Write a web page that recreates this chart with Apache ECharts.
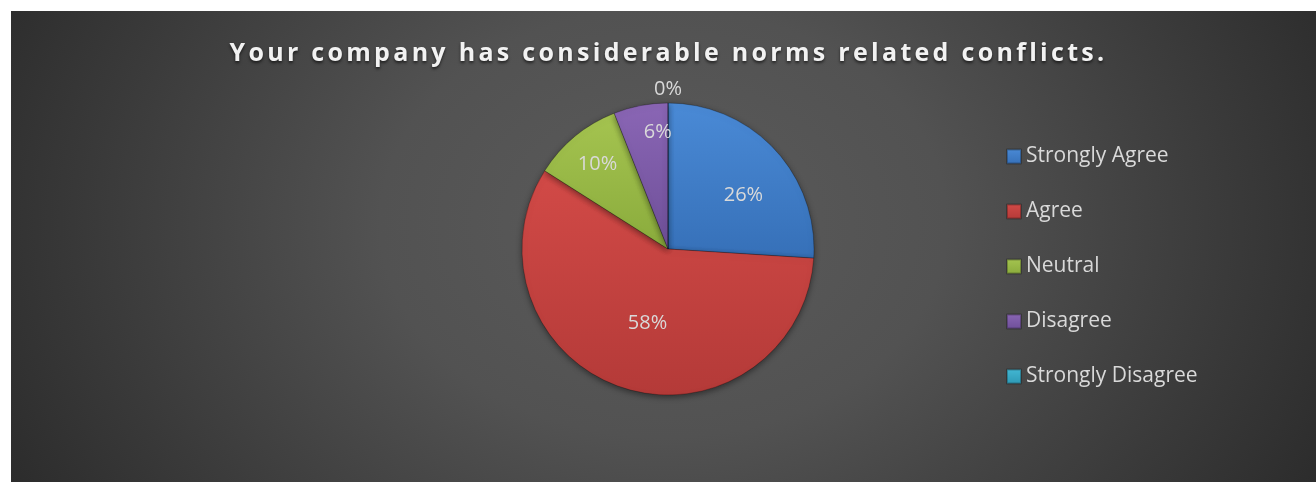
<!DOCTYPE html>
<html>
<head>
<meta charset="utf-8">
<script src="https://cdn.jsdelivr.net/npm/echarts@6/dist/echarts.min.js"></script>
<style>
  html, body { margin: 0; padding: 0; background: #ffffff; }
  #wrap {
    position: absolute; left: 11px; top: 11px; width: 1305px; height: 471px;
    background: radial-gradient(ellipse 62% 130% at 50% 45%, #5b5b5b 0%, #525252 35%, #3a3a3a 70%, #262626 100%);
  }
  #chart { position: absolute; left: 0; top: 0; width: 1305px; height: 471px; }
  #title {
    position: absolute; left: 0; top: 23px; width: 1305px; padding-left: 10px; box-sizing: border-box;
    text-align: center; font-family: 'Open Sans', sans-serif; font-weight: bold; font-size: 25px;
    letter-spacing: 3.3px; color: #f2f2f2; text-shadow: 0 2px 3px rgba(0,0,0,0.6);
    line-height: normal; white-space: nowrap; z-index: 2; pointer-events: none;
  }
</style>
</head>
<body>
<div id="wrap">
  <div id="chart"></div>
  <div id="title"></div>
</div>
<script>
// Survey responses (percent of respondents)
const categories = ['Strongly Agree', 'Agree', 'Neutral', 'Disagree', 'Strongly Disagree'];
const shares = [26, 58, 10, 6, 0];
const titleText = 'Your company has considerable norms related conflicts.';

// slice fill colours: [light, dark]
const palette = [
  ['#4a8ad6', '#3670b8'],
  ['#d24a47', '#b43a38'],
  ['#a5c450', '#8aab3c'],
  ['#8a66b5', '#6e4f98'],
  ['#43b8d4', '#2d98b4']
];
// nudge of each percent label away from its default spot inside the slice
const labelOffsets = [[20, -2], [3, 2], [-22, -26], [4, -42], [0, -84]];

document.getElementById('title').textContent = titleText;

const pieData = categories.map((name, i) => ({
  name,
  value: shares[i],
  itemStyle: {
    color: {
      type: 'linear', x: 0, y: 0, x2: 0, y2: 1,
      colorStops: [{ offset: 0, color: palette[i][0] }, { offset: 1, color: palette[i][1] }]
    }
  },
  label: { offset: labelOffsets[i] }
}));

const chart = echarts.init(document.getElementById('chart'), null, { renderer: 'canvas' });
chart.setOption({
  backgroundColor: 'transparent',
  animation: false,
  color: palette.map(p => p[0]),
  legend: {
    orient: 'vertical',
    left: 990,
    top: 130,
    itemWidth: 14,
    itemHeight: 14,
    itemGap: 34,
    icon: 'rect',
    data: categories,
    textStyle: { fontFamily: 'Open Sans', fontSize: 21, color: '#d9d9d9' }
  },
  series: [{
    type: 'pie',
    center: [657, 238],
    radius: 146,
    startAngle: 90,
    clockwise: true,
    avoidLabelOverlap: false,
    stillShowZeroSum: true,
    data: pieData,
    itemStyle: {
      borderColor: 'rgba(0,0,0,0.25)',
      borderWidth: 1,
      shadowColor: 'rgba(0,0,0,0.45)',
      shadowBlur: 6,
      shadowOffsetY: 2
    },
    label: {
      show: true,
      position: 'inside',
      formatter: '{c}%',
      fontFamily: 'Open Sans',
      fontSize: 20,
      color: '#d9d9d9'
    },
    labelLine: { show: false }
  }]
});
</script>
</body>
</html>
